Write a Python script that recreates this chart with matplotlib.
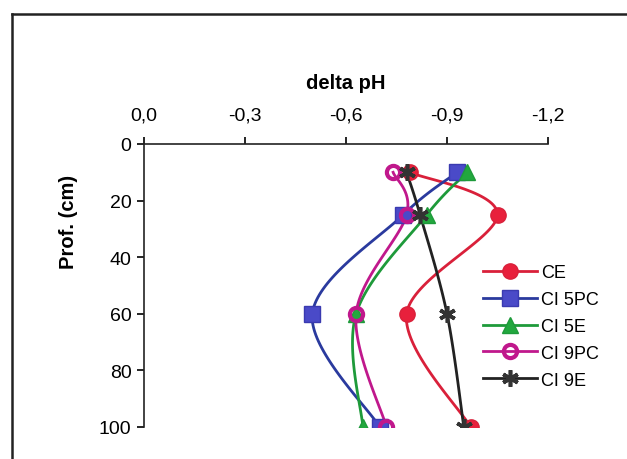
import numpy as np
import matplotlib
matplotlib.use("Agg")
import matplotlib.pyplot as plt
from matplotlib.lines import Line2D
from matplotlib.ticker import FuncFormatter

plt.rcParams['font.family'] = ['Liberation Sans', 'DejaVu Sans']
plt.rcParams['axes.unicode_minus'] = False

# profundidade das amostras (cm)
depth = [10, 25, 60, 100]

# variacao de pH por tratamento
ce = [-0.79, -1.05, -0.78, -0.97]
ci_5pc = [-0.93, -0.77, -0.50, -0.70]
ci_5e = [-0.96, -0.84, -0.63, -0.65]
ci_9pc = [-0.74, -0.78, -0.63, -0.72]
ci_9e = [-0.78, -0.82, -0.90, -0.95]

labels = ["CE", "CI 5PC", "CI 5E", "CI 9PC", "CI 9E"]
xticks = [0.0, -0.3, -0.6, -0.9, -1.2]
yticks = [0, 20, 40, 60, 80, 100]


def smooth(xs, ys, n=40):
    # curva suavizada tipo Excel (Bezier com tangentes Catmull-Rom)
    sx, sy = 404 / 1.2, 283 / 100
    pts = np.column_stack([np.asarray(xs) * sx, np.asarray(ys) * sy])
    pad = np.vstack([pts[0], pts, pts[-1]])
    t = np.linspace(0, 1, n)[:, None]
    segs = []
    for i in range(len(pts) - 1):
        p0, p1, p2, p3 = pad[i:i + 4]
        c1 = p1 + (p2 - p0) / 6
        c2 = p2 - (p3 - p1) / 6
        segs.append((1 - t) ** 3 * p1 + 3 * (1 - t) ** 2 * t * c1
                    + 3 * (1 - t) * t ** 2 * c2 + t ** 3 * p2)
    c = np.vstack(segs)
    return c[:, 0] / sx, c[:, 1] / sy


fig = plt.figure(figsize=(6.27, 4.60), dpi=100)
ax = fig.add_axes([144 / 627, 1 - 428 / 460, 404 / 627, 283 / 460])

styles = [
    dict(color='#D9203A', marker='o', mfc='#E8203C', mec='#D9203A', ms=11, mew=1),
    dict(color='#2A3A9E', marker='s', mfc='#4A4AC8', mec='#3A3AB0', ms=11, mew=1),
    dict(color='#1E9A3A', marker='^', mfc='#22A83E', mec='#1E9A3A', ms=12, mew=1),
    dict(color='#C0188C', marker='o', mfc='none', mec='#C0188C', ms=9.5, mew=3),
    dict(color='#222222', marker=(6, 2, 0), mfc='none', mec='#333333', ms=12, mew=2.6),
]

handles = []
for vals, st, lab in zip([ce, ci_5pc, ci_5e, ci_9pc, ci_9e], styles, labels):
    cx, cy = smooth(vals, depth)
    ax.plot(cx, cy, color=st['color'], lw=2.0, zorder=2)
    ax.plot(vals, depth, ls='none', marker=st['marker'], mfc=st['mfc'],
            mec=st['mec'], ms=st['ms'], mew=st['mew'], zorder=3)
    handles.append(Line2D([], [], color=st['color'], lw=2.0, marker=st['marker'],
                          mfc=st['mfc'], mec=st['mec'], ms=st['ms'], mew=st['mew'],
                          label=lab))

ax.set_xlim(0, -1.2)
ax.set_ylim(100, 0)
ax.set_xticks(xticks)
ax.set_yticks(yticks)
ax.xaxis.set_major_formatter(FuncFormatter(lambda v, p: f"{v:.1f}".replace('.', ',')))

ax.xaxis.tick_top()
ax.xaxis.set_label_position('top')
for s in ['right', 'bottom']:
    ax.spines[s].set_visible(False)
for s in ['left', 'top']:
    ax.spines[s].set_linewidth(1.2)
    ax.spines[s].set_color('#222222')
ax.tick_params(axis='x', direction='out', length=5, width=1.2, pad=10, labelsize=14)
ax.tick_params(axis='y', direction='out', length=5, width=1.2, pad=4, labelsize=14)

ax.set_xlabel("delta pH", fontsize=14.5, fontweight='bold', labelpad=13)
fig.text(68 / 627, 1 - 222 / 460, "Prof. (cm)", fontsize=14.5, fontweight='bold',
         rotation=90, ha='center', va='center')

ax.legend(handles=handles, loc='upper left', bbox_to_anchor=(483 / 627, 1 - 265 / 460),
          bbox_transform=fig.transFigure, frameon=False, fontsize=13,
          handlelength=3.0, handletextpad=0.2, labelspacing=0.55,
          borderpad=0, borderaxespad=0)

# moldura do grafico
fig.add_artist(Line2D([12 / 627, 12 / 627], [0, 1 - 15 / 460], color='#222222', lw=1.8))
fig.add_artist(Line2D([12 / 627, 1], [1 - 15 / 460, 1 - 15 / 460], color='#222222', lw=1.8))

fig.savefig("out.png", dpi=100)
